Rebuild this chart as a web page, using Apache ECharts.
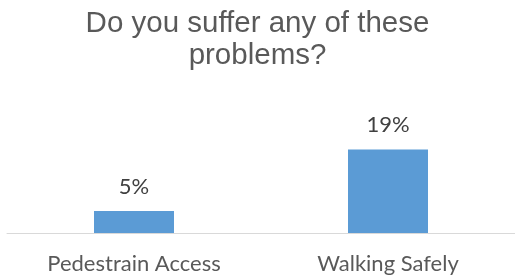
<!DOCTYPE html>
<html>
<head>
<meta charset="utf-8">
<script src="https://cdn.jsdelivr.net/npm/echarts@6/dist/echarts.min.js"></script>
<style>
  html, body { margin: 0; padding: 0; background: #fff; }
  #main { width: 515px; height: 280px; }
</style>
</head>
<body>
<div id="main"></div>
<script>
// 数据
var categories = ['Pedestrain Access', 'Walking Safely'];
var values = [5, 19];

var myChart = echarts.init(document.getElementById('main'));
var option = {
  animation: false,
  title: {
    text: 'Do you suffer any of these\nproblems?',
    left: 'center',
    top: 3,
    textStyle: {
      fontFamily: 'Liberation Sans',
      fontSize: 29.5,
      fontWeight: 'normal',
      color: '#595959',
      lineHeight: 32
    }
  },
  grid: {
    left: 7,
    width: 512,
    top: 145,
    bottom: 47
  },
  xAxis: {
    type: 'category',
    data: categories,
    axisTick: { show: false },
    axisLine: { lineStyle: { color: '#d9d9d9', width: 1 } },
    axisLabel: {
      margin: 20,
      fontFamily: 'Lato',
      fontSize: 22,
      color: '#595959'
    }
  },
  yAxis: {
    type: 'value',
    min: 0,
    max: 20,
    show: false,
    splitLine: { show: false }
  },
  series: [{
    type: 'bar',
    data: values,
    barWidth: 80,
    itemStyle: { color: '#5B9BD5' },
    label: {
      show: true,
      position: 'top',
      distance: 13,
      formatter: '{c}%',
      fontFamily: 'Lato',
      fontSize: 22,
      color: '#404040'
    }
  }]
};
myChart.setOption(option);
</script>
</body>
</html>
